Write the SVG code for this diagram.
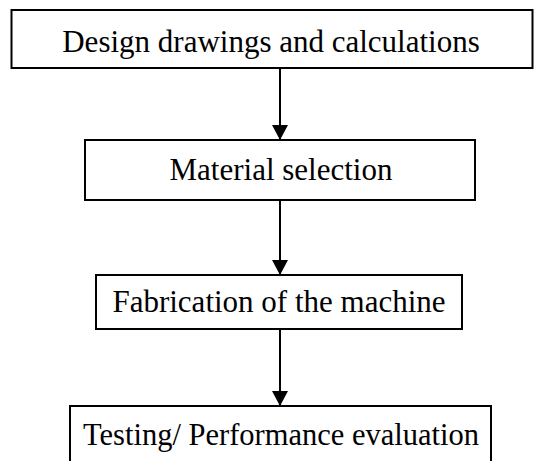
<svg xmlns="http://www.w3.org/2000/svg" width="534" height="461" viewBox="0 0 534 461">
  <style>
    .box { fill: #fff; stroke: #000; stroke-width: 2; }
    .lbl { font-family: "Liberation Serif", "Times New Roman", serif; font-size: 31px; fill: #000; text-anchor: middle; }
    .conn { stroke: #000; stroke-width: 2; fill: none; }
  </style>
  <defs>
    <marker id="arr" markerWidth="15" markerHeight="16" refX="15" refY="8" orient="auto" markerUnits="userSpaceOnUse">
      <path d="M0,0 L15,8 L0,16 Z" fill="#000"/>
    </marker>
  </defs>
  <rect width="534" height="461" fill="#fff"/>
  <g id="connectors">
    <line class="conn" x1="280" y1="68" x2="280" y2="140" marker-end="url(#arr)"/>
    <line class="conn" x1="280" y1="200" x2="280" y2="275" marker-end="url(#arr)"/>
    <line class="conn" x1="280" y1="329" x2="280" y2="406" marker-end="url(#arr)"/>
  </g>
  <g id="n1">
    <rect class="box" x="11.5" y="10" width="521" height="58"/>
    <text class="lbl" x="271" y="52">Design drawings and calculations</text>
  </g>
  <g id="n2">
    <rect class="box" x="85" y="140" width="390" height="60"/>
    <text class="lbl" x="281" y="180">Material selection</text>
  </g>
  <g id="n3">
    <rect class="box" x="96" y="275" width="366" height="54"/>
    <text class="lbl" x="279" y="312">Fabrication of the machine</text>
  </g>
  <g id="n4">
    <rect class="box" x="70" y="406" width="421" height="70"/>
    <text class="lbl" x="281" y="445" style="font-size:30.5px">Testing/ Performance evaluation</text>
  </g>
</svg>
